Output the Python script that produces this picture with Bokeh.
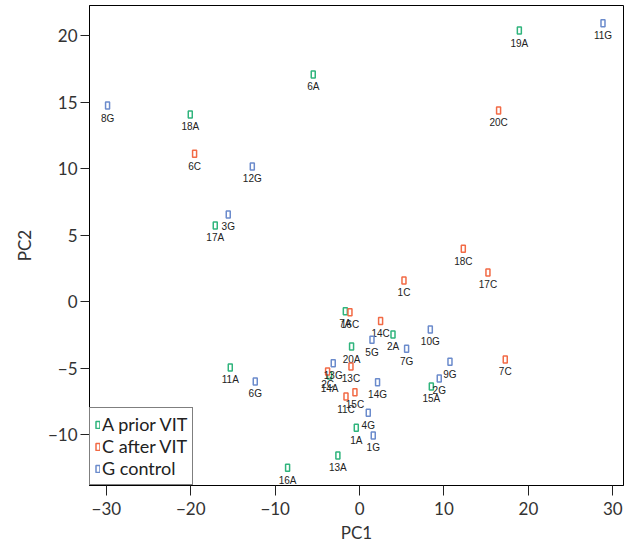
from bokeh.plotting import figure
from bokeh.models import ColumnDataSource, Range1d, FixedTicker, CustomJSTickFormatter, Legend, LegendItem
from bokeh.core.properties import value
from bokeh.embed import file_html
from bokeh.resources import INLINE

# ---- data ----
a_labels = ["19A", "6A", "18A", "17A", "7A", "20A", "2A", "14A", "11A", "15A", "1A", "13A", "16A"]
a_pc1 = [18.93, -5.49, -20.06, -17.10, -1.69, -0.95, 3.96, -3.55, -15.32, 8.50, -0.39, -2.57, -8.53]
a_pc2 = [20.41, 17.11, 14.10, 5.75, -0.69, -3.35, -2.44, -5.53, -4.92, -6.35, -9.46, -11.54, -12.47]

c_labels = ["20C", "6C", "18C", "17C", "1C", "7C", "16C", "14C", "13C", "2C", "15C", "11C"]
c_pc1 = [16.47, -19.55, 12.29, 15.21, 5.26, 17.26, -1.14, 2.49, -1.02, -3.79, -0.55, -1.61]
c_pc2 = [14.40, 11.14, 4.00, 2.22, 1.62, -4.32, -0.77, -1.44, -4.85, -5.23, -6.78, -7.11]

g_labels = ["11G", "8G", "12G", "3G", "10G", "7G", "9G", "2G", "5G", "13G", "14G", "6G", "4G", "1G"]
g_pc1 = [28.84, -29.86, -12.71, -15.56, 8.38, 5.57, 10.71, 9.44, 1.47, -3.12, 2.13, -12.36, 1.03, 1.62]
g_pc2 = [20.96, 14.77, 10.19, 6.58, -2.07, -3.52, -4.50, -5.75, -2.84, -4.60, -6.03, -5.98, -8.33, -10.04]

group_names = ["A prior VIT", "C after VIT", "G control"]
group_colors = ["#2fb47c", "#f26a45", "#6b8bcc"]

x_ticks = [-30, -20, -10, 0, 10, 20, 30]
y_ticks = [-10, -5, 0, 5, 10, 15, 20]

p = figure(frame_width=534, frame_height=480,
           min_border_left=89, min_border_right=2, min_border_top=5, min_border_bottom=10,
           x_range=Range1d(-32.0, 31.27), y_range=Range1d(-13.8, 22.29),
           output_backend="svg", toolbar_location=None)

p.background_fill_color = "white"
p.border_fill_color = "white"
p.outline_line_color = "black"
p.outline_line_width = 1
p.xgrid.visible = False
p.ygrid.visible = False

fmt = CustomJSTickFormatter(code="return tick < 0 ? '\\u2212' + Math.abs(tick) : String(tick);")
for ax, ticks, lab in ((p.xaxis[0], x_ticks, "PC1"), (p.yaxis[0], y_ticks, "PC2")):
    ax.ticker = FixedTicker(ticks=ticks)
    ax.formatter = fmt
    ax.axis_label = lab
    ax.axis_line_color = "black"
    ax.major_tick_line_color = "#222222"
    ax.major_tick_out = 10
    ax.major_tick_in = 0
    ax.minor_tick_line_color = None
    ax.major_label_text_font = "Lato"
    ax.major_label_text_font_size = "17px"
    ax.major_label_text_color = "#333333"
    ax.major_label_standoff = 3
    ax.axis_label_text_font = "Lato"
    ax.axis_label_text_font_size = "17px"
    ax.axis_label_text_font_style = "normal"
    ax.axis_label_text_color = "#333333"
p.xaxis[0].major_label_standoff = 6
p.xaxis[0].axis_label_standoff = 4
p.yaxis[0].major_tick_out = 9
p.yaxis[0].axis_label_standoff = 10

items = []
for name, color, xs, ys, labs in zip(group_names, group_colors,
                                     [a_pc1, c_pc1, g_pc1], [a_pc2, c_pc2, g_pc2],
                                     [a_labels, c_labels, g_labels]):
    src = ColumnDataSource(dict(x=xs, y=ys, lab=labs))
    r = p.rect("x", "y", width=4, height=7, width_units="screen", height_units="screen",
               source=src, fill_color="white", line_color=color, line_width=1.5)
    p.text("x", "y", text="lab", source=src, text_font=value("Liberation Sans"),
           text_font_size="10px", text_color="#222222", text_align="center",
           text_baseline="middle", y_offset=12.5)
    items.append(LegendItem(label=name, renderers=[r]))

legend = Legend(items=items, location="bottom_left")
legend.margin = 0
legend.padding = 5
legend.spacing = 0
legend.label_height = 21
legend.glyph_height = 9
legend.glyph_width = 5
legend.label_standoff = 2
legend.label_text_font = "Lato"
legend.label_text_font_size = "18px"
legend.label_text_color = "#222222"
legend.border_line_color = "black"
legend.border_line_width = 1
legend.background_fill_color = "white"
legend.background_fill_alpha = 1
p.add_layout(legend, "center")

open("out.html", "w").write(file_html(p, INLINE))
